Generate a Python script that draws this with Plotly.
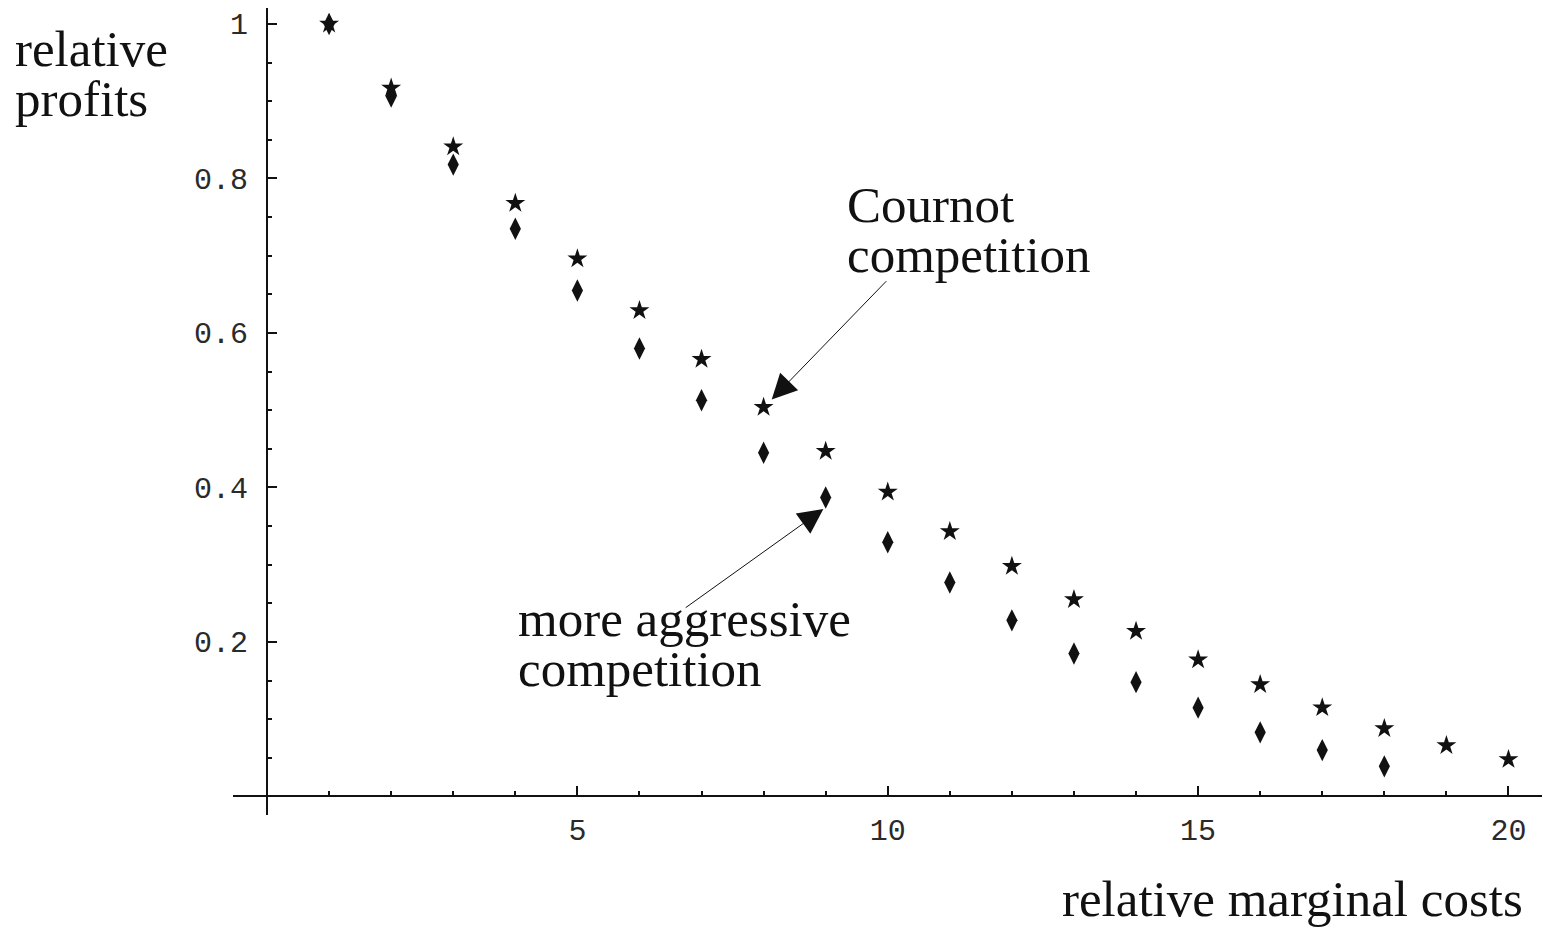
import plotly.graph_objects as go

# relative marginal cost (x) and relative profits (y)
cost = list(range(1, 21))
cournot = [1.0, 0.917, 0.841, 0.768, 0.696, 0.629, 0.566, 0.504, 0.447, 0.394,
           0.343, 0.298, 0.255, 0.214, 0.177, 0.145, 0.115, 0.088, 0.066, 0.048]
aggressive = [1.0, 0.906, 0.818, 0.735, 0.655, 0.580, 0.513, 0.445, 0.387, 0.329,
              0.277, 0.228, 0.185, 0.148, 0.115, 0.083, 0.060, 0.039]

x_ticks = [5, 10, 15, 20]
x_tick_labels = ['5', '10', '15', '20']
y_ticks = [0.2, 0.4, 0.6, 0.8, 1.0]
y_tick_labels = ['0.2', '0.4', '0.6', '0.8', '1']

# page body adds an 8px offset, so the figure is a bit smaller than the window
OFF = 8
W, H = 1543, 921
L, R, T, B = 225, 9, 0, 114
x_range = [-0.548, 20.54]
y_range = [-0.024, 1.0207]

serif = 'Liberation Serif'
mono = 'Liberation Mono'
ink = '#111111'


def paper(px, py):
    # screen pixel -> paper fraction
    fx, fy = px - OFF, py - OFF
    return (fx - L) / (W - L - R), (H - B - fy) / (H - T - B)


fig = go.Figure()

fig.add_trace(go.Scatter(
    x=cost, y=cournot, mode='markers', name='Cournot competition',
    marker=dict(symbol='star', size=15, color=ink, line=dict(width=0)),
    showlegend=False, cliponaxis=False
))
fig.add_trace(go.Scatter(
    x=cost[:len(aggressive)], y=aggressive, mode='markers', name='more aggressive competition',
    marker=dict(symbol='diamond-tall', size=16, color=ink, line=dict(width=0)),
    showlegend=False, cliponaxis=False
))

# text labels (screen pixel anchor: left edge, vertical middle of the line)
labels = [
    ('relative', 13, 49),
    ('profits', 13, 99),
    ('Cournot', 845, 205),
    ('competition', 845, 255),
    ('more aggressive', 516, 619),
    ('competition', 516, 669),
    ('relative marginal costs', 1060, 899),
]
for text, px, py in labels:
    xp, yp = paper(px, py)
    fig.add_annotation(
        text=text, x=xp, y=yp, xref='paper', yref='paper',
        xanchor='left', yanchor='middle', showarrow=False,
        font=dict(family=serif, size=51, color=ink)
    )

# arrows: (tip x, tip y, tail x, tail y) in data units
arrows = [
    (8.131, 0.514, 10.0, 0.669),
    (8.963, 0.372, 6.72, 0.243),
]
for tx, ty, sx, sy in arrows:
    fig.add_annotation(
        x=tx, y=ty, ax=sx, ay=sy, xref='x', yref='y', axref='x', ayref='y',
        text='', showarrow=True, arrowhead=2, arrowsize=5, arrowwidth=1,
        arrowcolor=ink, standoff=0, startstandoff=0
    )

fig.update_xaxes(
    range=x_range, anchor='free', position=(0 - y_range[0]) / (y_range[1] - y_range[0]),
    showline=True, linecolor=ink, linewidth=2, showgrid=False, zeroline=False,
    tickvals=x_ticks, ticktext=x_tick_labels, ticks='inside', ticklen=9, tickwidth=2,
    tickcolor=ink, ticklabelstandoff=7,
    tickfont=dict(family=mono, size=30, color='#2a2a2a'),
    minor=dict(dtick=1, tick0=0, ticks='inside', ticklen=4, tickwidth=2, tickcolor=ink),
    automargin=False
)
fig.update_yaxes(
    range=y_range, anchor='free', position=(0 - x_range[0]) / (x_range[1] - x_range[0]),
    showline=True, linecolor=ink, linewidth=2, showgrid=False, zeroline=False,
    tickvals=y_ticks, ticktext=y_tick_labels, ticks='inside', ticklen=9, tickwidth=2,
    tickcolor=ink, ticklabelstandoff=12,
    tickfont=dict(family=mono, size=30, color='#2a2a2a'),
    minor=dict(dtick=0.05, tick0=0, ticks='inside', ticklen=4, tickwidth=2, tickcolor=ink),
    automargin=False
)

fig.update_layout(
    width=W, height=H,
    margin=dict(l=L, r=R, t=T, b=B),
    paper_bgcolor='white', plot_bgcolor='white',
    showlegend=False
)

fig.write_html("out.html")
